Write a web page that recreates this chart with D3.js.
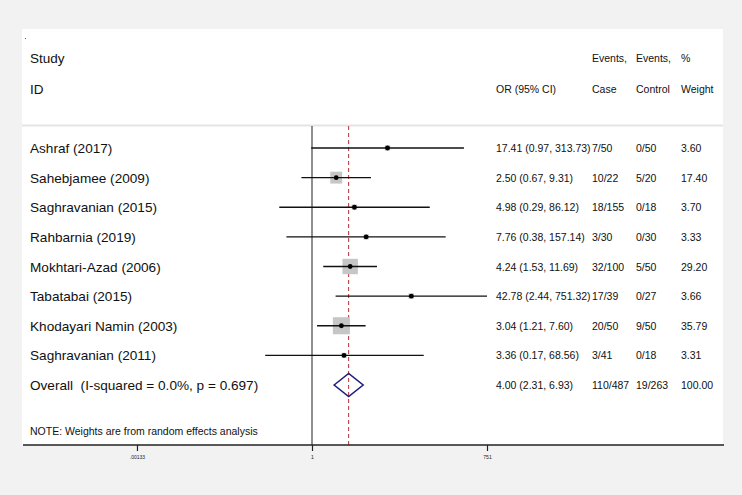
<!DOCTYPE html>
<html><head><meta charset="utf-8">
<script src="https://cdn.jsdelivr.net/npm/d3@7"></script>
<style>html,body{margin:0;padding:0;background:#f2f2f2;}svg{display:block;}text{white-space:pre;}</style>
</head><body><svg id="c" width="742" height="495"></svg>
<script>
const studies = ["Ashraf (2017)","Sahebjamee (2009)","Saghravanian (2015)","Rahbarnia (2019)","Mokhtari-Azad (2006)","Tabatabai (2015)","Khodayari Namin (2003)","Saghravanian (2011)"];
const orVals = [17.41, 2.50, 4.98, 7.76, 4.24, 42.78, 3.04, 3.36];
const ciLow = [0.97, 0.67, 0.29, 0.38, 1.53, 2.44, 1.21, 0.17];
const ciHigh = [313.73, 9.31, 86.12, 157.14, 11.69, 751.32, 7.60, 68.56];
const caseEvents = ["7/50","10/22","18/155","3/30","32/100","17/39","20/50","3/41"];
const controlEvents = ["0/50","5/20","0/18","0/30","5/50","0/27","9/50","0/18"];
const weights = [3.60, 17.40, 3.70, 3.33, 29.20, 3.66, 35.79, 3.31];
const overallLabel = "Overall  (I-squared = 0.0%, p = 0.697)";
const overall = {or: 4.00, lo: 2.31, hi: 6.93, cases: "110/487", controls: "19/263", weight: "100.00"};
const tickValues = [0.00133, 1, 751];
const tickLabels = [".00133", "1", "751"];
const noteText = "NOTE: Weights are from random effects analysis";

const svg = d3.select("#c");
const font = "Liberation Sans, Arial, sans-serif";
const panel = {x0: 22, x1: 723, y0: 29, y1: 445};

svg.append("rect").attr("x", panel.x0).attr("y", panel.y0)
  .attr("width", panel.x1 - panel.x0).attr("height", panel.y1 - panel.y0).attr("fill", "#fff");
svg.append("rect").attr("x", 25).attr("y", 38).attr("width", 1).attr("height", 1).attr("fill", "#666");

const x = d3.scaleLog().domain([1/751, 751]).range([137, 487]);
const nRows = studies.length + 1;
const y = d3.scaleLinear().domain([0, nRows - 1]).range([148, 385]);

// header separator
svg.append("line").attr("x1", panel.x0).attr("x2", panel.x1).attr("y1", 125.5).attr("y2", 125.5)
  .attr("stroke", "#e4e4e4").attr("stroke-width", 2);

// header text
const hdr = svg.append("g").attr("font-family", font).attr("fill", "#111");
hdr.append("text").attr("x", 30).attr("y", 63).attr("font-size", 13.5).text("Study");
hdr.append("text").attr("x", 30).attr("y", 94).attr("font-size", 13.5).text("ID");
const colX = {or: 496, cs: 592, ct: 636, w: 681};
const fs = 10.5;
hdr.append("text").attr("x", colX.cs).attr("y", 62).attr("font-size", fs).text("Events,");
hdr.append("text").attr("x", colX.ct).attr("y", 62).attr("font-size", fs).text("Events,");
hdr.append("text").attr("x", colX.w).attr("y", 62).attr("font-size", fs).text("%");
hdr.append("text").attr("x", colX.or).attr("y", 93).attr("font-size", fs).text("OR (95% CI)");
hdr.append("text").attr("x", colX.cs).attr("y", 93).attr("font-size", fs).text("Case");
hdr.append("text").attr("x", colX.ct).attr("y", 93).attr("font-size", fs).text("Control");
hdr.append("text").attr("x", colX.w).attr("y", 93).attr("font-size", fs).text("Weight");

// reference line at 1
svg.append("line").attr("x1", x(1)).attr("x2", x(1)).attr("y1", 126).attr("y2", panel.y1)
  .attr("stroke", "#444").attr("stroke-width", 1.2);
// overall dashed line
svg.append("line").attr("x1", x(overall.or)).attr("x2", x(overall.or)).attr("y1", 126).attr("y2", panel.y1)
  .attr("stroke", "#b5303a").attr("stroke-width", 1).attr("stroke-dasharray", "4,3");

const data = studies.map((s, i) => ({s, or: orVals[i], lo: ciLow[i], hi: ciHigh[i], c: caseEvents[i], k: controlEvents[i], w: weights[i]}));
const rows = svg.append("g").selectAll("g").data(data).join("g");
const boxK = 2.85;
rows.append("rect")
  .attr("x", d => x(d.or) - boxK * Math.sqrt(d.w) / 2)
  .attr("y", (d, i) => y(i) - boxK * Math.sqrt(d.w) / 2)
  .attr("width", d => boxK * Math.sqrt(d.w)).attr("height", d => boxK * Math.sqrt(d.w))
  .attr("fill", "#c6c6c6");
rows.append("line").attr("x1", d => x(d.lo)).attr("x2", d => x(d.hi))
  .attr("y1", (d, i) => y(i)).attr("y2", (d, i) => y(i)).attr("stroke", "#111").attr("stroke-width", 1.3);
rows.append("circle").attr("cx", d => x(d.or)).attr("cy", (d, i) => y(i)).attr("r", 2.4).attr("fill", "#000");
rows.append("text").attr("x", 30).attr("y", (d, i) => y(i) + 5).attr("font-family", font).attr("font-size", 13.6).attr("fill", "#111").text(d => d.s);
const fmt = d3.format(".2f");
rows.append("text").attr("x", colX.or).attr("y", (d, i) => y(i) + 4).attr("font-family", font).attr("font-size", fs).attr("fill", "#111")
  .text(d => `${fmt(d.or)} (${fmt(d.lo)}, ${fmt(d.hi)})`);
rows.append("text").attr("x", colX.cs).attr("y", (d, i) => y(i) + 4).attr("font-family", font).attr("font-size", fs).attr("fill", "#111").text(d => d.c);
rows.append("text").attr("x", colX.ct).attr("y", (d, i) => y(i) + 4).attr("font-family", font).attr("font-size", fs).attr("fill", "#111").text(d => d.k);
rows.append("text").attr("x", colX.w).attr("y", (d, i) => y(i) + 4).attr("font-family", font).attr("font-size", fs).attr("fill", "#111").text(d => fmt(d.w));

// overall row
const oy = y(nRows - 1);
svg.append("path")
  .attr("d", `M${x(overall.lo)},${oy} L${x(overall.or)},${oy - 11.5} L${x(overall.hi)},${oy} L${x(overall.or)},${oy + 11.5} Z`)
  .attr("fill", "none").attr("stroke", "#1c1c7a").attr("stroke-width", 1.5);
const og = svg.append("g").attr("font-family", font).attr("fill", "#111");
og.append("text").attr("x", 30).attr("y", oy + 5).attr("font-size", 13.6).text(overallLabel);
og.append("text").attr("x", colX.or).attr("y", oy + 4).attr("font-size", fs).text(`${fmt(overall.or)} (${fmt(overall.lo)}, ${fmt(overall.hi)})`);
og.append("text").attr("x", colX.cs).attr("y", oy + 4).attr("font-size", fs).text(overall.cases);
og.append("text").attr("x", colX.ct).attr("y", oy + 4).attr("font-size", fs).text(overall.controls);
og.append("text").attr("x", colX.w).attr("y", oy + 4).attr("font-size", fs).text(overall.weight);

svg.append("text").attr("x", 30).attr("y", 435).attr("font-family", font).attr("font-size", 10.5).attr("fill", "#111").text(noteText);

// axis
svg.append("line").attr("x1", 23).attr("x2", 724).attr("y1", panel.y1).attr("y2", panel.y1).attr("stroke", "#222").attr("stroke-width", 1.3);
const axis = d3.axisBottom(x).tickValues(tickValues).tickFormat((d, i) => tickLabels[i]).tickSize(6).tickPadding(4);
const ag = svg.append("g").attr("transform", `translate(0,${panel.y1})`).call(axis);
ag.select(".domain").remove();
ag.selectAll(".tick line").attr("stroke", "#222").attr("stroke-width", 1.2);
ag.selectAll(".tick text").attr("font-family", font).attr("font-size", 5).attr("fill", "#222");
</script>
</body></html>
